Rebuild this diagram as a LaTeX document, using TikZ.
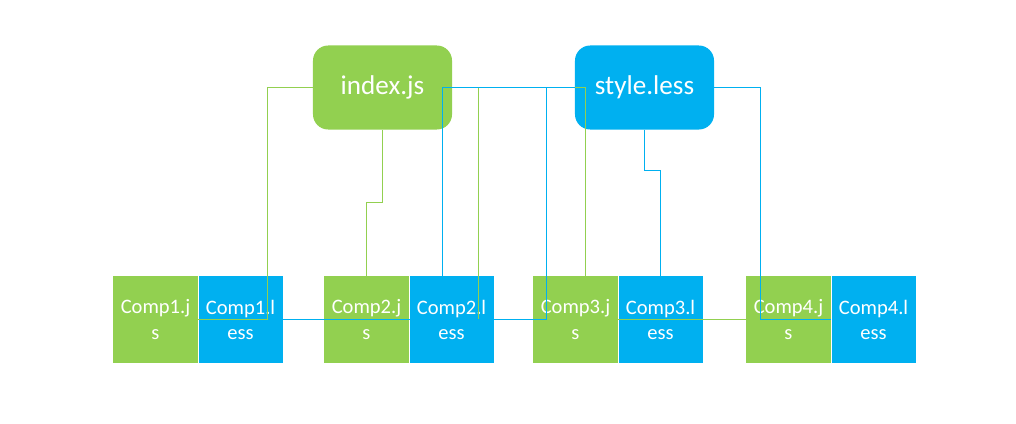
\documentclass[tikz,border=0pt]{standalone}
\usepackage{fontspec}
\setmainfont{Carlito}
\usetikzlibrary{positioning}

\definecolor{jsgreen}{HTML}{92D050}
\definecolor{lessblue}{HTML}{00B0F0}

\tikzset{topbox/.style={rounded corners=0.38cm,minimum width=3.475cm,minimum height=2.1cm,inner sep=0pt,text=white,font=\fontsize{19.3}{23}\selectfont}}
\tikzset{compbox/.style={minimum width=2.125cm,minimum height=2.175cm,inner sep=0pt,text=white,align=center,font=\fontsize{14.6}{17.8}\selectfont}}
\tikzset{gline/.style={jsgreen,line width=0.6pt}}
\tikzset{bline/.style={lessblue,line width=0.6pt}}

\begin{document}
\begin{tikzpicture}[x=0.025cm,y=-0.025cm]
        \useasboundingbox (0,0) rectangle (1016,423);
        % the two entry files
        \node[topbox,fill=jsgreen] (idx) at (382.5,87.5) {index.js};
        \node[topbox,fill=lessblue] (sty) at (644.5,87.5) {style.less};

        % the components, js and less side by side
        \node[compbox,fill=jsgreen] (c1js) at (155.5,319.5) {Comp1.j\\s};
        \node[compbox,fill=lessblue,minimum width=2.1cm,right=0pt of c1js] (c1less) {Comp1.l\\ess};
        \node[compbox,fill=jsgreen] (c2js) at (366.5,319.5) {Comp2.j\\s};
        \node[compbox,fill=lessblue,minimum width=2.1cm,right=0pt of c2js] (c2less) {Comp2.l\\ess};
        \node[compbox,fill=jsgreen] (c3js) at (575.5,319.5) {Comp3.j\\s};
        \node[compbox,fill=lessblue,minimum width=2.1cm,right=0pt of c3js] (c3less) {Comp3.l\\ess};
        \node[compbox,fill=jsgreen] (c4js) at (788.5,319.5) {Comp4.j\\s};
        \node[compbox,fill=lessblue,minimum width=2.1cm,right=0pt of c4js] (c4less) {Comp4.l\\ess};

        % index.js to the js files
        \draw[gline] (idx.west) -- ++(-45,0) |- (c1js.east);
        \draw[gline] (idx.south) -- ++(0,73) -| (c2js.north);
        \draw[gline] (idx.east) -| ([xshift=0.24cm]c3js.north);
        \draw[gline] (idx.east) -- ++(26,0) |- (c4js.west);

        % style.less to the less files
        \draw[bline] (sty.west) -- ++(-28,0) |- (c1less.east);
        \draw[bline] (sty.west) -| ([xshift=-0.225cm]c2less.north);
        \draw[bline] (sty.south) -- ++(0,41) -| (c3less.north);
        \draw[bline] (sty.east) -- ++(46,0) |- (c4less.west);
\end{tikzpicture}
\end{document}
